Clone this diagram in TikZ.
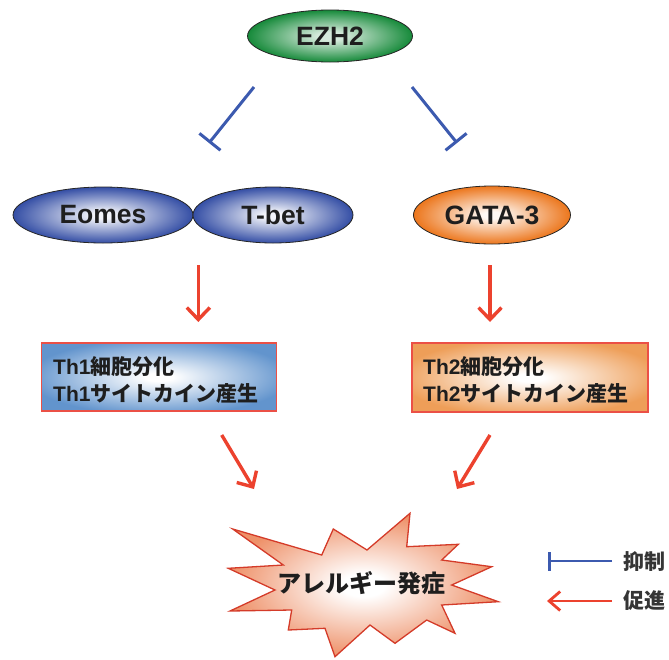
\documentclass[tikz,border=0pt]{standalone}
\usepackage{fontspec}
\setmainfont{Liberation Sans}
\newfontfamily\jp{Noto Sans CJK JP}
\usetikzlibrary{shapes.geometric,arrows.meta}
\definecolor{ezc}{RGB}{22,138,58}
\colorlet{ezin}{ezc!18!white}
\definecolor{blc}{RGB}{52,78,165}
\colorlet{blin}{blc!6!white}
\definecolor{orc}{RGB}{236,118,28}
\colorlet{orin}{orc!5!white}
\definecolor{thone}{RGB}{98,148,205}
\definecolor{thtwo}{RGB}{238,158,88}
\definecolor{starc}{RGB}{238,145,105}
\definecolor{boxborder}{RGB}{235,80,70}
\definecolor{inhib}{RGB}{60,90,175}
\definecolor{promo}{RGB}{236,66,46}
\definecolor{txt}{RGB}{30,30,30}
\pgfdeclareradialshading{ezshade}{\pgfpoint{0bp}{0bp}}{color(0bp)=(ezin); color(4bp)=(ezin); color(25bp)=(ezc); color(50bp)=(ezc)}
\pgfdeclareradialshading{blshade}{\pgfpoint{0bp}{0bp}}{color(0bp)=(blin); color(3bp)=(blin); color(25bp)=(blc); color(50bp)=(blc)}
\pgfdeclareradialshading{orshade}{\pgfpoint{0bp}{0bp}}{color(0bp)=(orin); color(3bp)=(orin); color(25bp)=(orc); color(50bp)=(orc)}
\pgfdeclareradialshading{thoneshade}{\pgfpoint{0bp}{0bp}}{color(0bp)=(white); color(3bp)=(white); color(28bp)=(thone); color(50bp)=(thone)}
\pgfdeclareradialshading{thtwoshade}{\pgfpoint{0bp}{0bp}}{color(0bp)=(white); color(3bp)=(white); color(28bp)=(thtwo); color(50bp)=(thtwo)}
\pgfdeclareradialshading{starshade}{\pgfpoint{0bp}{0bp}}{color(0bp)=(white); color(4bp)=(white); color(25bp)=(starc); color(50bp)=(starc)}
\tikzset{
  ellnode/.style={ellipse, draw=black!85, line width=0.8pt, inner sep=0pt,
    font=\bfseries\fontsize{26.5}{26.5}\selectfont, text=txt},
  thbox/.style={rectangle, draw=boxborder, line width=1.4pt, inner sep=0pt,
    minimum width=235pt, minimum height=68pt},
  thtext/.style={anchor=west, align=left, inner sep=0pt, text=txt,
    font=\bfseries\fontsize{21}{27}\selectfont},
  inhibit/.style={draw=inhib, line width=3pt, -{Bar[width=27pt]}},
  promote/.style={draw=promo, line width=3.4pt, -{Straight Barb[length=12pt,width=23pt]}},
  legtext/.style={anchor=west, inner sep=0pt, text=txt!90, font=\jp\bfseries\fontsize{21}{21}\selectfont},
}
\begin{document}
\begin{tikzpicture}[x=1pt,y=-1pt]
\useasboundingbox (0,0) rectangle (669,659);
% top node
\node[ellnode, shading=ezshade, minimum width=165pt, minimum height=52pt] (ezh) at (330,36) {EZH2};
% transcription factors
\node[ellnode, shading=blshade, minimum width=180pt, minimum height=56pt] (eomes) at (103,215) {Eomes};
\node[ellnode, shading=blshade, minimum width=160pt, minimum height=56pt] (tbet) at (273,215) {T-bet};
\node[ellnode, shading=orshade, minimum width=157pt, minimum height=58pt] (gata) at (492,215) {GATA-3};
% boxes
\node[thbox, shading=thoneshade] (thone) at (159,377) {};
\node[thtext] (thonet) at (53,380) {Th1{\jp 細胞分化}\\Th1{\jp サイトカイン産生}};
\node[thbox, shading=thtwoshade, minimum width=236pt, minimum height=69pt] (thtwo) at (530,377.5) {};
\node[thtext] (thtwot) at (423,380) {Th2{\jp 細胞分化}\\Th2{\jp サイトカイン産生}};
% starburst
\path[draw=promo!90!black, line width=1.3pt, shading=starshade, line join=miter]
  (232.7,529) -- (321.7,555) -- (333.3,529) -- (367,550) -- (410,513.3) --
  (406.7,546.7) -- (458.3,544.3) -- (441.7,560) -- (491.7,566.7) --
  (451.7,585) -- (498.3,601.7) -- (441.7,605) -- (455,633.3) --
  (426.7,620) -- (395,643.3) -- (370,625) -- (335,656.7) -- (325,628.3) --
  (288.3,630) -- (291.7,610) -- (230,611) -- (275,590) -- (228.3,568.3) --
  (283.3,565) -- cycle;
\node[inner sep=0pt, text=txt, font=\jp\bfseries\fontsize{24}{24}\selectfont] (allergy) at (361,583) {アレルギー発症};
% inhibition connectors
\coordinate (ia1) at (254,87);
\coordinate (ia2) at (209,143);
\coordinate (ib1) at (412,87);
\coordinate (ib2) at (457,143);
\draw[inhibit] (ia1) -- (ia2);
\draw[inhibit] (ib1) -- (ib2);
% promotion connectors
\coordinate (pa1) at (198.3,265);
\coordinate (pa2) at (198.3,322);
\coordinate (pb1) at (490,265);
\coordinate (pb2) at (490,322);
\draw[promote] (pa1) -- (pa2);
\draw[promote] (pb1) -- (pb2);
\coordinate (pc1) at (221.7,435);
\coordinate (pc2) at (254,489);
\coordinate (pd1) at (490,435);
\coordinate (pd2) at (457,489);
\draw[promote] (pc1) -- (pc2);
\draw[promote] (pd1) -- (pd2);
% legend
\coordinate (l1a) at (612,561);
\coordinate (l1b) at (548,561);
\coordinate (l2a) at (612,601);
\coordinate (l2b) at (547,601);
\draw[draw=inhib, line width=2.6pt, -{Bar[width=19pt]}] (l1a) -- (l1b);
\draw[draw=promo, line width=2.8pt, -{Straight Barb[length=11pt,width=19pt]}] (l2a) -- (l2b);
\node[legtext] (leg1) at (623,561) {抑制};
\node[legtext] (leg2) at (623,601) {促進};
\end{tikzpicture}
\end{document}
